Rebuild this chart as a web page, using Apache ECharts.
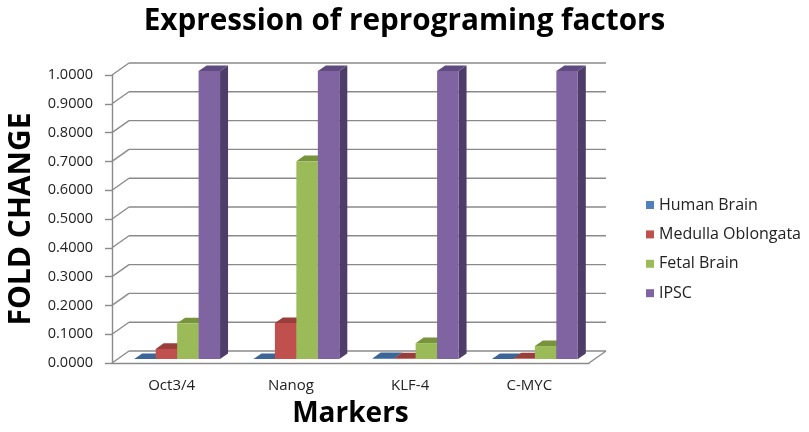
<!DOCTYPE html>
<html>
<head>
<meta charset="utf-8">
<script src="https://cdn.jsdelivr.net/npm/echarts@6/dist/echarts.min.js"></script>
<style>
  html, body { margin: 0; padding: 0; background: #fff; }
  #chart { width: 809px; height: 432px; }
</style>
</head>
<body>
<div id="chart"></div>
<script>
// Fold change of reprogramming markers across tissues
const categories = ['Oct3/4', 'Nanog', 'KLF-4', 'C-MYC'];
const seriesNames = ['Human Brain', 'Medulla Oblongata', 'Fetal Brain', 'IPSC'];
const humanBrain = [0.0000, 0.0000, 0.0030, 0.0000];
const medullaOblongata = [0.0350, 0.1250, 0.0020, 0.0020];
const fetalBrain = [0.1240, 0.6870, 0.0550, 0.0450];
const ipsc = [1.0000, 1.0000, 1.0000, 1.0000];
const yMin = 0, yMax = 1, yStep = 0.1;

// Office-style palette: front face, side face, top face
const faceColors = ['#4F81BD', '#C0504D', '#9BBB59', '#8064A2'];
const sideColors = ['#2E4E76', '#7A2F2D', '#5F7434', '#4F3D69'];
const topColors  = ['#3B6596', '#9A3E3C', '#77933C', '#5F4B80'];

const FONT = '"Open Sans", "Liberation Sans", sans-serif';
const GRID_LINE = '#8A8A8A';

// pseudo-3D geometry (pixels)
const WALL = { dx: 17, dy: -12 };      // depth of the back wall
const BAR_SHIFT = { dx: 5.5, dy: -4 };  // bar front plane behind the front edge
const BAR_DEPTH = { dx: 8, dy: -5.6 };  // bar thickness in depth
const GROUP_RATIO = 0.72;               // share of a category taken by a cluster

const tickValues = [];
for (let v = yMin; v <= yMax + 1e-9; v += yStep) tickValues.push(+v.toFixed(4));

// back wall gridlines, the diagonals joining them to the front axis, and the floor edge
function wallRender(params, api) {
  const cs = params.coordSys;
  const v = api.value(0);
  const y = api.coord([0, v])[1];
  const x0 = cs.x, x1 = cs.x + cs.width;
  const style = { stroke: GRID_LINE, lineWidth: 1.4, fill: null };
  const children = [
    { type: 'line', shape: { x1: x0, y1: y, x2: x0 + WALL.dx, y2: y + WALL.dy }, style },
    { type: 'line', shape: { x1: x0 + WALL.dx, y1: y + WALL.dy, x2: x1 + WALL.dx, y2: y + WALL.dy }, style }
  ];
  if (v === yMin) {
    children.push({ type: 'line', shape: { x1: x1, y1: y, x2: x1 + WALL.dx, y2: y + WALL.dy }, style });
  }
  return { type: 'group', children, silent: true };
}

// one box per value: side face, top face, then front face
function makeBarRender(k) {
  return function (params, api) {
    const i = params.dataIndex;
    const v = api.value(0);
    const band = api.size([1, 0])[0];
    const barW = band * GROUP_RATIO / seriesNames.length;
    const center = api.coord([i, v]);
    const base = api.coord([i, yMin]);
    const xl = center[0] - band * GROUP_RATIO / 2 + k * barW + BAR_SHIFT.dx;
    const xr = xl + barW;
    const yt = center[1] + BAR_SHIFT.dy;
    const yb = base[1] + BAR_SHIFT.dy;
    const ddx = BAR_DEPTH.dx, ddy = BAR_DEPTH.dy;
    return {
      type: 'group',
      children: [
        { type: 'polygon', shape: { points: [[xr, yb], [xr + ddx, yb + ddy], [xr + ddx, yt + ddy], [xr, yt]] },
          style: { fill: sideColors[k] } },
        { type: 'polygon', shape: { points: [[xl, yt], [xl + ddx, yt + ddy], [xr + ddx, yt + ddy], [xr, yt]] },
          style: { fill: topColors[k] } },
        { type: 'rect', shape: { x: xl, y: yt, width: barW, height: yb - yt },
          style: { fill: faceColors[k] } }
      ]
    };
  };
}

const seriesData = [humanBrain, medullaOblongata, fetalBrain, ipsc];

const chart = echarts.init(document.getElementById('chart'), null, { renderer: 'canvas' });
chart.setOption({
  animation: false,
  backgroundColor: '#ffffff',
  color: faceColors,
  title: {
    text: 'Expression of reprograming factors',
    left: 'center',
    top: 7,
    padding: 0,
    textStyle: { fontFamily: FONT, fontSize: 29.7, fontWeight: 'bold', color: '#000' }
  },
  legend: {
    orient: 'vertical',
    left: 646,
    top: 197,
    padding: 0,
    itemWidth: 8,
    itemHeight: 8,
    itemGap: 13.4,
    icon: 'rect',
    data: seriesNames,
    textStyle: { fontFamily: FONT, fontSize: 16, lineHeight: 16, color: '#222' }
  },
  grid: { left: 112, top: 75, width: 477, height: 288, containLabel: false, outerBoundsMode: 'none' },
  xAxis: {
    type: 'category',
    data: categories,
    name: 'Markers',
    nameLocation: 'middle',
    nameGap: 37,
    nameTextStyle: { fontFamily: FONT, fontSize: 28, fontWeight: 'bold', color: '#000' },
    axisLine: { show: true, lineStyle: { color: GRID_LINE, width: 1.4 } },
    axisTick: { show: false },
    axisLabel: { margin: 15, fontFamily: FONT, fontSize: 15, color: '#222' },
    splitLine: { show: false }
  },
  yAxis: {
    type: 'value',
    min: yMin,
    max: yMax,
    interval: yStep,
    name: 'FOLD CHANGE',
    nameLocation: 'middle',
    nameRotate: 90,
    nameGap: 68,
    nameTextStyle: { fontFamily: FONT, fontSize: 30, fontWeight: 'bold', color: '#000' },
    axisLine: { show: true, lineStyle: { color: GRID_LINE, width: 1.4 } },
    axisTick: { show: true, length: 7, lineStyle: { color: GRID_LINE, width: 1.4 } },
    axisLabel: { margin: 19, fontFamily: FONT, fontSize: 14.5, color: '#222',
      formatter: v => v.toFixed(4) },
    splitLine: { show: false }
  },
  series: [
    {
      type: 'custom',
      name: '__walls',
      renderItem: wallRender,
      data: tickValues.map(v => [v]),
      silent: true,
      z: 1
    }
  ].concat(seriesData.map((arr, k) => ({
    type: 'custom',
    name: seriesNames[k],
    itemStyle: { color: faceColors[k] },
    renderItem: makeBarRender(k),
    data: arr.map(v => [v]),
    encode: { y: 0 },
    z: 2
  })))
});
</script>
</body>
</html>
